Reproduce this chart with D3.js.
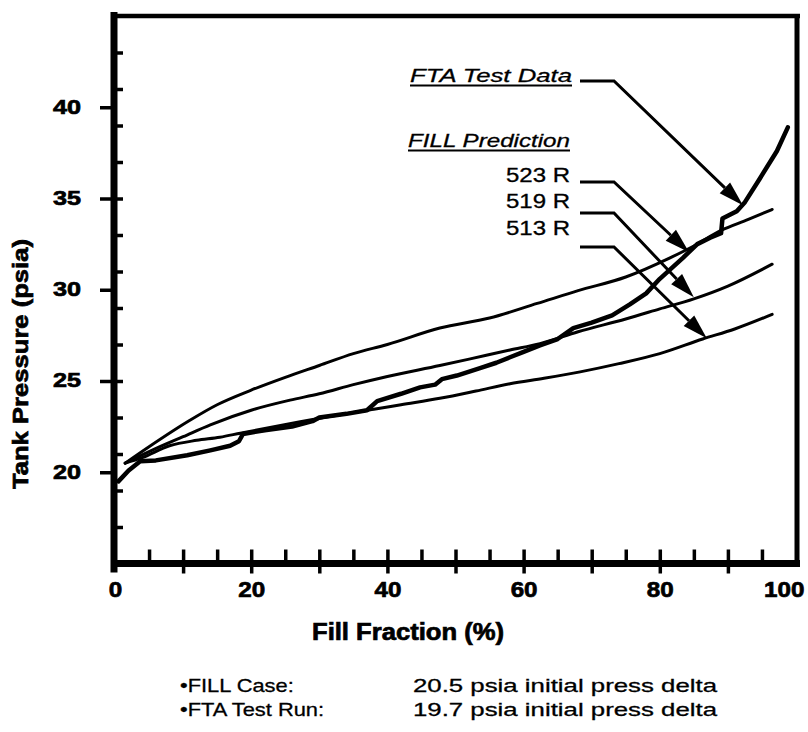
<!DOCTYPE html>
<html>
<head>
<meta charset="utf-8">
<script src="https://cdn.jsdelivr.net/npm/d3@7"></script>
<style>
  html, body { margin: 0; padding: 0; background: #fff; }
  svg { display: block; }
  text { font-family: "Liberation Sans", Arial, Helvetica, sans-serif; fill: #000; }
  .heavy { stroke: #000; stroke-width: 0.7px; }
</style>
</head>
<body>
<svg id="chart" width="808" height="732"></svg>
<script>
// Tank pressure (psia) against fill fraction (%)
// FILL predictions at three liquid temperatures, plus the FTA test run.
const fill523R = [
  [1.5, 20.5], [5, 21.4], [11, 22.85], [15, 23.7], [20, 24.5], [25, 25.2],
  [30, 25.85], [35, 26.5], [40, 27.0], [47.7, 27.9], [55, 28.45], [62, 29.25],
  [68, 29.95], [75, 30.7], [81.5, 31.75], [85, 32.4], [89, 33.25], [93, 33.85],
  [96.5, 34.4]
];
const fill519R = [
  [1.5, 20.5], [6.6, 21.4], [10, 21.95], [14, 22.6], [20, 23.4], [25.7, 23.95],
  [30, 24.3], [35, 24.8], [40, 25.25], [47.7, 25.85], [52, 26.2], [58, 26.7],
  [62.4, 27.05], [68, 27.7], [75, 28.4], [80, 28.95], [85, 29.5], [90, 30.2],
  [96.5, 31.4]
];
const fill513R = [
  [1.5, 20.5], [4, 20.8], [8, 21.45], [12, 21.75], [15.4, 21.92], [18.4, 22.14],
  [22, 22.4], [27, 22.75], [30, 22.95], [34.5, 23.25], [38, 23.45], [42, 23.7],
  [47.7, 24.05], [53, 24.45], [58, 24.85], [63, 25.15], [68.3, 25.5], [74, 25.95],
  [80, 26.5], [86.3, 27.3], [91, 27.85], [96.5, 28.65]
];
const ftaTestData = [
  [0.5, 19.5], [2, 20.1], [3.7, 20.6], [6, 20.65], [10.6, 20.93], [14, 21.2],
  [16.9, 21.45], [18.2, 21.7], [18.8, 22.1], [22, 22.3], [26, 22.5], [29, 22.8],
  [30, 23.0], [34, 23.2], [37, 23.4], [38.5, 23.9], [42, 24.3], [44.8, 24.65],
  [47, 24.8], [48, 25.1], [50.2, 25.3], [53.6, 25.7], [56, 26.0], [58, 26.3],
  [60, 26.6], [62.4, 26.95], [65, 27.3], [67.3, 27.9], [70, 28.2], [73, 28.6],
  [75.6, 29.2], [78, 29.8], [80, 30.6], [83.4, 31.75], [85.5, 32.5], [87.4, 32.85],
  [89, 33.1], [89.2, 33.9], [91.3, 34.3], [92.5, 34.8], [94.7, 36.1], [97.2, 37.6],
  [98.8, 38.9]
];

// Axis ticks and labels
const xLabelTicks = [0, 20, 40, 60, 80, 100];
const xMajorTicks = [10, 20, 30, 40, 50, 60, 70, 80, 90];
const xMinorTicks = [5, 15, 25, 35, 45, 55, 65, 75, 85, 95];
const yLabelTicks = [20, 25, 30, 35, 40];
const yMinorTicks = [17, 19, 21, 23, 25, 27, 29, 31, 33, 35, 37, 39, 41, 43];

// Callout targets (fill %, psia) and their labels
const calloutNames = ["FTA Test Data", "523 R", "519 R", "513 R"];
const calloutTargets = [[92.2, 34.63], [84.3, 32.05], [85.0, 29.59], [86.9, 27.34]];

const noteLabels = ["\u2022FILL Case:", "\u2022FTA Test Run:"];
const noteValues = ["20.5 psia initial press delta", "19.7 psia initial press delta"];

const svg = d3.select("#chart");
const x = d3.scaleLinear().domain([0, 100]).range([115, 796]);
const y = d3.scaleLinear().domain([15, 45]).range([563.5, 16]);

// widen glyph runs to the lettering used on this plot
function stretch(sel, factor) {
  sel.each(function () {
    const w = this.getComputedTextLength();
    d3.select(this).attr("textLength", w * factor).attr("lengthAdjust", "spacingAndGlyphs");
  });
}
function fitWidth(sel, w) {
  sel.attr("textLength", w).attr("lengthAdjust", "spacingAndGlyphs");
}

// ---- ticks ----
function styleTicks(g) {
  g.select(".domain").remove();
  g.selectAll(".tick line").attr("stroke", "#000").attr("stroke-width", 3.5);
}
const xAxisY = y(15);
const yAxisX = x(0) - 1;

svg.append("g").attr("transform", `translate(0,${xAxisY})`)
  .call(d3.axisTop(x).tickValues(xMajorTicks.concat(xMinorTicks)).tickSize(14).tickFormat(""))
  .call(styleTicks);
svg.append("g").attr("transform", `translate(0,${xAxisY})`)
  .call(d3.axisBottom(x).tickValues(xMajorTicks).tickSize(10).tickFormat(""))
  .call(styleTicks);

const xLab = svg.append("g").attr("transform", `translate(0,${xAxisY})`)
  .call(d3.axisBottom(x).tickValues(xLabelTicks).tickSize(0).tickPadding(18).tickFormat(d3.format("d")))
  .call(styleTicks);
xLab.selectAll("text").attr("font-size", 22).attr("font-weight", "bold").attr("fill", "#000")
  .attr("class", "heavy");
stretch(xLab.selectAll("text"), 1.1);
// the last label sits flush with the right edge of the frame
xLab.selectAll(".tick").filter(d => d === 100).select("text")
  .attr("text-anchor", "end").attr("x", 8);

svg.append("g").attr("transform", `translate(${yAxisX},0)`)
  .call(d3.axisRight(y).tickValues(yMinorTicks).tickSize(9).tickFormat(""))
  .call(styleTicks);
const yLab = svg.append("g").attr("transform", `translate(${yAxisX},0)`)
  .call(d3.axisLeft(y).tickValues(yLabelTicks).tickSize(14).tickPadding(19).tickFormat(d3.format("d")))
  .call(styleTicks);
yLab.selectAll("text").attr("font-size", 21).attr("font-weight", "bold").attr("fill", "#000")
  .attr("dy", "0.28em").attr("class", "heavy");
stretch(yLab.selectAll("text"), 1.2);

// ---- frame ----
const frame = svg.append("g").attr("stroke", "#000").attr("fill", "none");
frame.append("line").attr("x1", yAxisX).attr("x2", yAxisX).attr("y1", y(45) - 4).attr("y2", xAxisY + 9).attr("stroke-width", 7);
frame.append("line").attr("x1", yAxisX - 3).attr("x2", x(100) + 4).attr("y1", xAxisY).attr("y2", xAxisY).attr("stroke-width", 7);
frame.append("line").attr("x1", yAxisX - 3).attr("x2", x(100) + 4).attr("y1", y(45)).attr("y2", y(45)).attr("stroke-width", 4.5);
frame.append("line").attr("x1", x(100) + 1).attr("x2", x(100) + 1).attr("y1", y(45) - 2).attr("y2", xAxisY + 3).attr("stroke-width", 5);

// ---- axis titles ----
const xTitle = svg.append("text").attr("x", 408).attr("y", 640).attr("text-anchor", "middle")
  .attr("font-size", 23).attr("font-weight", "bold").attr("class", "heavy").text("Fill Fraction (%)");
fitWidth(xTitle, 192);
const yTitle = svg.append("text").attr("transform", "translate(28,364) rotate(-90)")
  .attr("text-anchor", "middle").attr("font-size", 22).attr("font-weight", "bold")
  .attr("class", "heavy").text("Tank Pressure (psia)");
fitWidth(yTitle, 250);

// ---- curves ----
const predLine = d3.line().x(d => x(d[0])).y(d => y(d[1])).curve(d3.curveMonotoneX);
const testLine = d3.line().x(d => x(d[0])).y(d => y(d[1])).curve(d3.curveLinear);
const curves = svg.append("g").attr("fill", "none").attr("stroke", "#000")
  .attr("stroke-linejoin", "round").attr("stroke-linecap", "round");
[fill523R, fill519R, fill513R].forEach(s => {
  curves.append("path").attr("d", predLine(s)).attr("stroke-width", 3);
});
curves.append("path").attr("d", testLine(ftaTestData)).attr("stroke-width", 4.5);

// ---- callouts ----
const ann = svg.append("g");
const head1 = ann.append("text").attr("x", 410).attr("y", 82).attr("font-size", 19)
  .attr("font-style", "italic").attr("stroke", "#000").attr("stroke-width", 0.3).text(calloutNames[0]);
fitWidth(head1, 162);
ann.append("line").attr("x1", 410).attr("x2", 572).attr("y1", 85.5).attr("y2", 85.5)
  .attr("stroke", "#000").attr("stroke-width", 1.8);
const head2 = ann.append("text").attr("x", 408).attr("y", 147).attr("font-size", 19)
  .attr("font-style", "italic").attr("stroke", "#000").attr("stroke-width", 0.3).text("FILL Prediction");
fitWidth(head2, 162);
ann.append("line").attr("x1", 408).attr("x2", 570).attr("y1", 150.5).attr("y2", 150.5)
  .attr("stroke", "#000").attr("stroke-width", 1.8);

const tempRows = [182, 208, 235];
calloutNames.slice(1).forEach((name, i) => {
  const t = ann.append("text").attr("x", 570).attr("y", tempRows[i]).attr("text-anchor", "end")
    .attr("font-size", 20).attr("stroke", "#000").attr("stroke-width", 0.3).text(name);
  stretch(t, 1.2);
});

// leader lines: short horizontal run then a diagonal to the curve, with a solid head
const leaderRows = [81, 182, 213, 247];
calloutTargets.forEach((tgt, i) => {
  const tip = [x(tgt[0]), y(tgt[1])];
  const bend = [614, leaderRows[i]];
  const dx = tip[0] - bend[0], dy = tip[1] - bend[1];
  const len = Math.hypot(dx, dy);
  const ux = dx / len, uy = dy / len;
  const L = 25, w = 7.5;
  const base = [tip[0] - L * ux, tip[1] - L * uy];
  ann.append("path")
    .attr("d", `M580,${leaderRows[i]}L${bend[0]},${bend[1]}L${base[0]},${base[1]}`)
    .attr("fill", "none").attr("stroke", "#000").attr("stroke-width", 3)
    .attr("stroke-linejoin", "miter");
  ann.append("path")
    .attr("d", `M${tip[0]},${tip[1]}L${base[0] - w * uy},${base[1] + w * ux}L${base[0] + w * uy},${base[1] - w * ux}Z`)
    .attr("fill", "#000");
});

// ---- run notes ----
const notes = svg.append("g");
[692, 716].forEach((yy, i) => {
  const a = notes.append("text").attr("x", 180).attr("y", yy).attr("font-size", 19)
    .attr("stroke", "#000").attr("stroke-width", 0.3).text(noteLabels[i]);
  stretch(a, 1.15);
  const b = notes.append("text").attr("x", 413).attr("y", yy).attr("font-size", 19)
    .attr("stroke", "#000").attr("stroke-width", 0.3).text(noteValues[i]);
  fitWidth(b, 304);
});
</script>
</body>
</html>
